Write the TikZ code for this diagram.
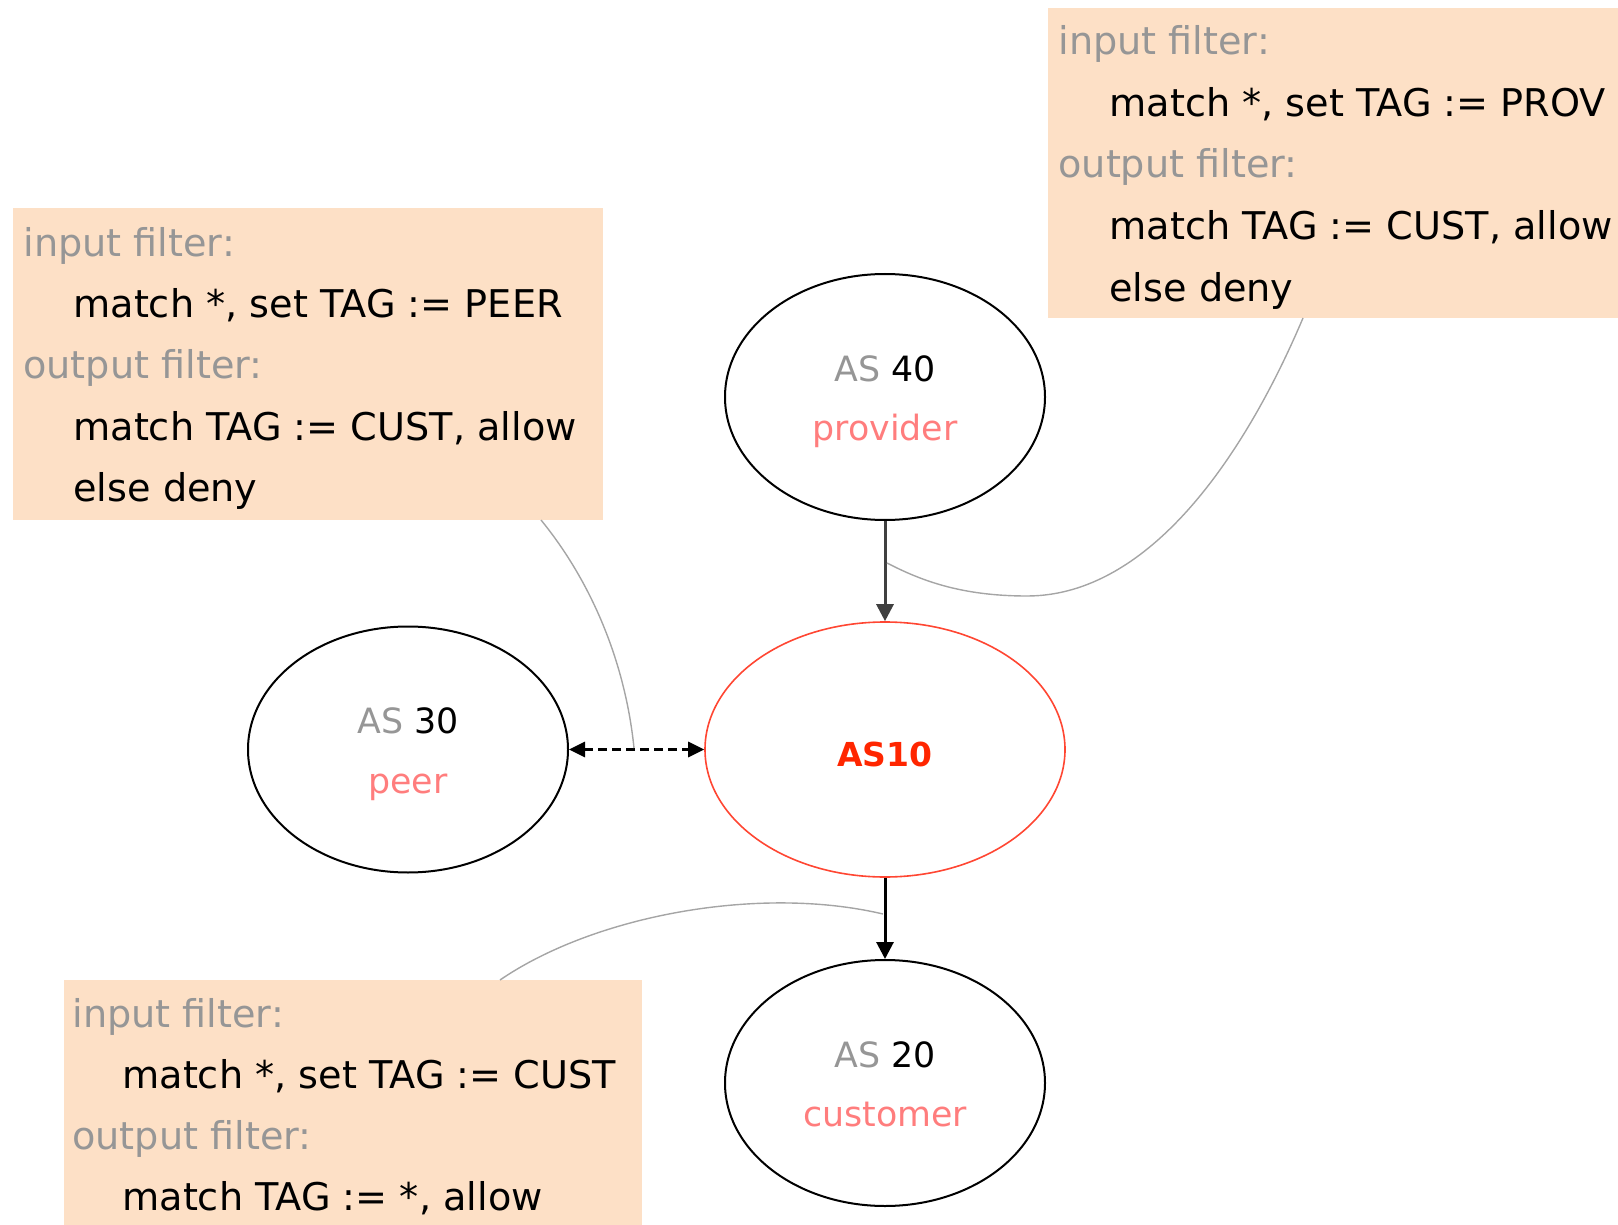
\documentclass[tikz,border=0pt]{standalone}
\usepackage{fontspec}
\setmainfont{DejaVu Sans}
\usepackage{xcolor}
\usepackage{tikz}
\usetikzlibrary{shapes.geometric,arrows.meta}

\definecolor{filterfill}{RGB}{253,224,198}
\definecolor{filtergray}{RGB}{150,150,150}
\definecolor{rolepink}{RGB}{255,125,125}
\definecolor{asred}{RGB}{255,38,0}
\definecolor{asborder}{RGB}{255,70,50}
\definecolor{calloutgray}{RGB}{165,165,165}
\definecolor{darkarrow}{RGB}{64,64,64}

\begin{document}
\begin{tikzpicture}[x=0.5pt,y=0.5pt,yscale=-1,xscale=1,
	asnode/.style={draw, ellipse, line width=1pt, minimum width=160pt, minimum height=123pt, inner sep=0pt},
	filterbox/.style={fill=filterfill, draw=none, anchor=north west, inner sep=0pt},
	filterhead/.style={anchor=base west, inner sep=0pt, text=filtergray, font=\fontsize{19.1}{22}\selectfont},
	filterrule/.style={anchor=base west, inner sep=0pt, font=\fontsize{19.1}{22}\selectfont},
	aslabel/.style={anchor=base, inner sep=0pt, font=\fontsize{17.4}{21}\selectfont},
	callout/.style={draw=calloutgray, line width=0.7pt},
	relarrow/.style={line width=1.5pt, -{Triangle[length=8.5pt,width=8.5pt]}}
	]
	\useasboundingbox (0,0) rectangle (1618,1225);
	
	%Shape: Rectangle [peer filter]
	\node [filterbox, minimum width=295pt, minimum height=156pt] (peerbox) at (13,208) {};
	%Shape: Rectangle [provider filter]
	\node [filterbox, minimum width=285pt, minimum height=155pt] (provbox) at (1048,8) {};
	%Shape: Rectangle [customer filter]
	\node [filterbox, minimum width=289pt, minimum height=122.5pt] (custbox) at (64,980) {};
	
	% Text Node
	\node [filterhead] (peerin) at (23,257) {input filter:};
	\node [filterrule] (peerinrule) at (73,318) {match *, set TAG := PEER};
	\node [filterhead] (peerout) at (23,379) {output filter:};
	\node [filterrule] (peeroutrule) at (73,440) {match TAG := CUST, allow};
	\node [filterrule] (peerdeny) at (73,501) {else deny};
	% Text Node
	\node [filterhead] (provin) at (1058,55) {input filter:};
	\node [filterrule] (provinrule) at (1109,117) {match *, set TAG := PROV};
	\node [filterhead] (provout) at (1058,178) {output filter:};
	\node [filterrule] (provoutrule) at (1109,240) {match TAG := CUST, allow};
	\node [filterrule] (provdeny) at (1109,302) {else deny};
	% Text Node
	\node [filterhead] (custin) at (72,1027) {input filter:};
	\node [filterrule] (custinrule) at (122,1088) {match *, set TAG := CUST};
	\node [filterhead] (custout) at (72,1149) {output filter:};
	\node [filterrule] (custoutrule) at (122,1210) {match TAG := *, allow};
	
	%Shape: Ellipse [AS nodes]
	\node [asnode] (as40) at (885,397) {};
	\node [asnode] (as30) at (408,749.5) {};
	\node [asnode, draw=asborder, line width=0.8pt, minimum width=180pt, minimum height=127.5pt] (as10) at (885,749.5) {};
	\node [asnode] (as20) at (885,1083) {};
	
	% Text Node
	\node [aslabel] (as40name) at (885,381) {{\color{filtergray}AS} 40};
	\node [aslabel, text=rolepink] (as40role) at (885,440) {provider};
	\node [aslabel] (as30name) at (408,733) {{\color{filtergray}AS} 30};
	\node [aslabel, text=rolepink] (as30role) at (408,793) {peer};
	\node [aslabel, text=asred, font=\fontsize{16.5}{20}\selectfont\bfseries] (as10name) at (885,766) {AS10};
	\node [aslabel] (as20name) at (885,1067) {{\color{filtergray}AS} 20};
	\node [aslabel, text=rolepink] (as20role) at (885,1126) {customer};
	
	%Straight Lines [relations]
	\draw [relarrow, darkarrow] (as40) -- (as10);
	\draw [relarrow, black] (as10) -- (as20);
	\draw [line width=1.5pt, dash pattern={on 4.5pt off 2.5pt}, {Triangle[length=8pt,width=7.5pt]}-{Triangle[length=8pt,width=7.5pt]}] (as30) -- (as10);
	
	%Curve Lines [callouts]
	\coordinate (provfoot) at (1303,318);
	\coordinate (provtip) at (887,563);
	\coordinate (peerfoot) at (541,520);
	\coordinate (peertip) at (634,748);
	\coordinate (custfoot) at (500,980);
	\coordinate (custtip) at (883,914);
	\draw [callout] (provfoot) .. controls (1245,455) and (1150,596) .. (1027,596) .. controls (960,596) and (920,580) .. (provtip);
	\draw [callout] (peerfoot) .. controls (590,580) and (625,660) .. (peertip);
	\draw [callout] (custfoot) .. controls (595,915) and (760,885) .. (custtip);
	
\end{tikzpicture}
\end{document}
